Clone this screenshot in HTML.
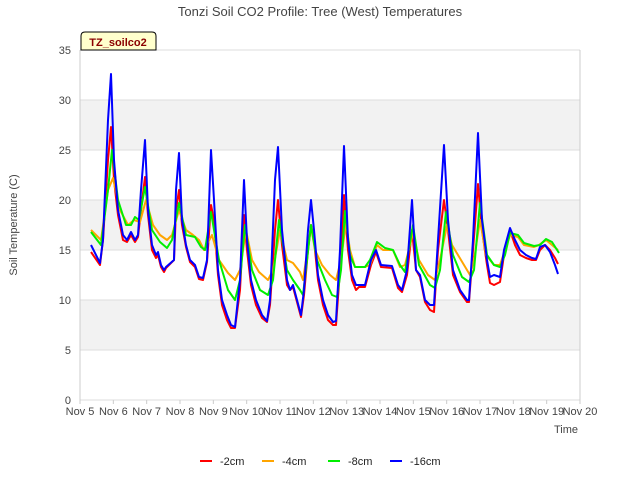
<!DOCTYPE html>
<html><head><meta charset="utf-8"><style>
body{margin:0;background:#fff;font-family:"Liberation Sans","DejaVu Sans",sans-serif}
</style></head><body>
<svg id="chart" width="640" height="480" xmlns="http://www.w3.org/2000/svg" font-family="Liberation Sans, DejaVu Sans, sans-serif">
<rect width="640" height="480" fill="#fff"/>
<text x="320" y="16" text-anchor="middle" font-size="13" fill="#444">Tonzi Soil CO2 Profile: Tree (West) Temperatures</text>
<g id="grid"></g>
<g id="axes"></g>
<g id="series"></g>
<text transform="translate(17,225) rotate(-90)" text-anchor="middle" font-size="11" fill="#444">Soil Temperature (C)</text>
<text x="578" y="433" text-anchor="end" font-size="11" fill="#444">Time</text>
<g>
<path d="M81,50 L81,36 Q81,32 85,32 L152,32 Q156,32 156,36 L156,50 Z" fill="#ffffcc" stroke="#000" stroke-width="1"/>
<text x="118" y="46" text-anchor="middle" font-size="11" font-weight="bold" fill="#8b0000">TZ_soilco2</text>
</g>
<g id="legend"></g>
</svg>
<script>
const tickLabels=["Nov 5","Nov 6","Nov 7","Nov 8","Nov 9","Nov 10","Nov 11","Nov 12","Nov 13","Nov 14","Nov 15","Nov 16","Nov 17","Nov 18","Nov 19","Nov 20"];
const yTicks=[0,5,10,15,20,25,30,35];
const seriesNames=["-2cm","-4cm","-8cm","-16cm"];
const seriesColors=["#ff0000","#ffa500","#00ee00","#0000ff"];
const tBlue=[0.33,0.6,0.69,0.84,0.93,1.02,1.14,1.29,1.41,1.53,1.65,1.74,1.83,1.95,2.04,2.16,2.28,2.34,2.43,2.52,2.58,2.82,2.88,2.97,3.06,3.18,3.3,3.45,3.57,3.69,3.81,3.93,4.02,4.14,4.26,4.41,4.53,4.65,4.8,4.92,5.01,5.13,5.28,5.46,5.61,5.7,5.85,5.94,6.06,6.21,6.3,6.39,6.51,6.63,6.72,6.84,6.93,7.02,7.14,7.29,7.44,7.59,7.68,7.8,7.92,8.04,8.16,8.28,8.37,8.55,8.73,8.88,9.03,9.36,9.54,9.66,9.81,9.96,10.08,10.2,10.35,10.5,10.62,10.74,10.92,11.04,11.19,11.4,11.61,11.67,11.79,11.94,12.06,12.21,12.3,12.42,12.6,12.72,12.9,13.05,13.2,13.38,13.56,13.68,13.8,13.95,14.1,14.25,14.34];
const vBlue=[15.5,13.7,16,28,32.6,24,19,16.5,16,16.8,16,16.5,21,26,19,15.5,14.5,14.8,13.5,13,13.3,14,21,24.7,18,15.5,14,13.5,12.3,12.2,14,25,20,13,10,8.5,7.5,7.3,12,22,16,12,10,8.5,7.9,10,22,25.3,17,12,11,11.5,10,8.5,11,17,20,17,12.5,10,8.5,7.8,7.9,15,25.4,16,12.5,11.5,11.5,11.5,14,15,13.5,13.4,11.5,11,13,20,13,12.5,10,9.5,9.5,16,25.5,18,13,11,10,10,16,26.7,18,14,12.3,12.5,12.3,15,17.2,16,15,14.5,14.2,14.1,15.3,15.5,14.8,13.5,12.6];
const vRed=[14.8,13.5,16,24,27.3,22,18.5,16,15.8,16.5,15.8,16.3,19,22.3,18.5,15,14.2,14.5,13.3,12.8,13.2,14,19,21,17.5,15.3,13.8,13.3,12.1,12,13.8,19.5,18,12.5,9.5,8,7.2,7.2,11,18.5,15,11.5,9.5,8.2,7.8,9.5,17,20,15.5,11.5,11,11.3,9.8,8.3,10.5,15,17.5,16,12,9.5,8,7.5,7.5,13,20.5,15,12,11,11.3,11.3,13.5,14.8,13.3,13.2,11.2,10.8,12.5,17,13,12.3,9.8,9,8.8,15,20,17,12.5,10.8,9.8,9.8,15,21.6,17,13.5,11.7,11.5,11.8,14.5,17,15.5,14.5,14.2,14,14,15,15.5,15,14.2,13.6];
const tOrange=[0.33,0.63,0.84,0.99,1.2,1.44,1.62,1.8,1.98,2.19,2.4,2.61,2.76,2.97,3.18,3.39,3.57,3.72,3.96,4.17,4.44,4.65,4.8,4.98,5.16,5.37,5.64,5.79,6.0,6.21,6.39,6.6,6.69,6.93,7.05,7.26,7.5,7.68,7.83,7.98,8.1,8.25,8.55,8.7,8.91,9.09,9.39,9.6,9.75,9.99,10.17,10.44,10.65,10.8,11.01,11.16,11.52,11.7,11.82,12.0,12.18,12.42,12.6,12.75,12.9,13.14,13.32,13.62,13.77,13.98,14.16,14.34];
const vOrange=[17,16,21,22.2,19,17.5,18,17.8,20,17.5,16.5,16,16.5,19,17,16.5,16,15,16.5,14,12.7,12,13,17,14,12.8,12,13,17,14,13.7,12.8,12,17.3,15,13.5,12.5,12,14,17.7,15,13.3,13.3,13.5,15.5,15,15,13.3,13.5,16.7,14,12.5,12,14,17.5,15.5,13.5,12.5,14,18,14.5,13.5,13.5,15,16.5,16.3,15.5,15.3,15.5,16,15.5,15];
const tGreen=[0.33,0.63,0.84,0.96,1.14,1.38,1.53,1.65,1.77,1.95,2.16,2.4,2.61,2.76,2.97,3.18,3.45,3.63,3.75,3.93,4.17,4.44,4.65,4.8,4.95,5.16,5.4,5.64,5.79,5.97,6.21,6.39,6.6,6.69,6.93,7.11,7.35,7.56,7.71,7.83,7.95,8.1,8.25,8.55,8.7,8.91,9.15,9.39,9.6,9.75,9.99,10.17,10.5,10.65,10.8,10.98,11.19,11.46,11.67,11.82,12.0,12.21,12.42,12.6,12.75,12.9,13.14,13.32,13.62,13.8,13.98,14.16,14.37];
const vGreen=[16.8,15.5,21,25,20,17.5,17.5,18.3,18,21.3,17,15.8,15.2,16,19.7,16.5,16.3,15.3,15,18.8,14,11,10,12,17.5,13,11,10.5,12,18,13,12,11,10.5,17.5,14,12,10.5,10.3,13,18.9,14.5,13.3,13.3,14,15.8,15.2,15,13.5,12.8,17.5,13.5,11.5,11.2,13,18.8,14.5,12.3,11.8,13,19.7,14.5,13.5,13.3,14.5,16.7,16.5,15.7,15.4,15.5,16.1,15.8,14.7];

const NS="http://www.w3.org/2000/svg";
const X0=80,X1=580,Y0=400,Y1=50;
const xs=t=>X0+t*(X1-X0)/15;
const ys=v=>Y0-v*(Y0-Y1)/35;
function mk(tag,attrs,parent){const e=document.createElementNS(NS,tag);for(const k in attrs)e.setAttribute(k,attrs[k]);parent.appendChild(e);return e;}
const grid=document.getElementById('grid'),axes=document.getElementById('axes'),ser=document.getElementById('series'),leg=document.getElementById('legend');
for(let i=0;i<yTicks.length-1;i++){
  if(i%2===1){const b=mk('rect',{x:X0,y:ys(yTicks[i+1]),width:X1-X0,height:ys(yTicks[i])-ys(yTicks[i+1]),fill:'#f2f2f2'},grid);
  
  }
}
yTicks.forEach(v=>{
  const l=mk('line',{x1:X0,x2:X1,y1:ys(v),y2:ys(v),stroke:'#dddddd','stroke-width':1},grid);
  
  
  const t=mk('text',{x:X0-9,y:ys(v)+4,'text-anchor':'end','font-size':11,fill:'#444'},axes);
  
  
  t.textContent=v;
});
const vx=mk('line',{x1:X0,x2:X0,y1:Y1,y2:Y0,stroke:'#ccc'},grid);


const vr=mk('line',{x1:X1,x2:X1,y1:Y1,y2:Y0,stroke:'#ccc'},grid);


tickLabels.forEach((s,i)=>{
  const tk=mk('line',{x1:xs(i),x2:xs(i),y1:Y0,y2:Y0+4,stroke:'#ccc'},axes);
  
  
  const t=mk('text',{x:xs(i),y:415,'text-anchor':'middle','font-size':11,fill:'#444'},axes);
  
  
  t.textContent=s;
});
const data=[[tBlue,vRed],[tOrange,vOrange],[tGreen,vGreen],[tBlue,vBlue]];
data.forEach((d,k)=>{
  const n=Math.min(d[0].length,d[1].length);let pts=[];
  for(let i=0;i<n;i++)pts.push(xs(d[0][i]).toFixed(1)+','+ys(d[1][i]).toFixed(1));
  const p=mk('polyline',{points:pts.join(' '),fill:'none',stroke:seriesColors[k],'stroke-width':2,'stroke-linejoin':'round'},ser);
  
  
});
const legX=[200,262,328,390];
seriesNames.forEach((s,k)=>{
  const g=mk('g',{},leg);
  
  
  mk('line',{x1:legX[k],x2:legX[k]+12,y1:461,y2:461,stroke:seriesColors[k],'stroke-width':2},g);
  const t=mk('text',{x:legX[k]+20,y:465,'font-size':11,fill:'#222'},g);
  t.textContent=s;
});
</script>
</body></html>
